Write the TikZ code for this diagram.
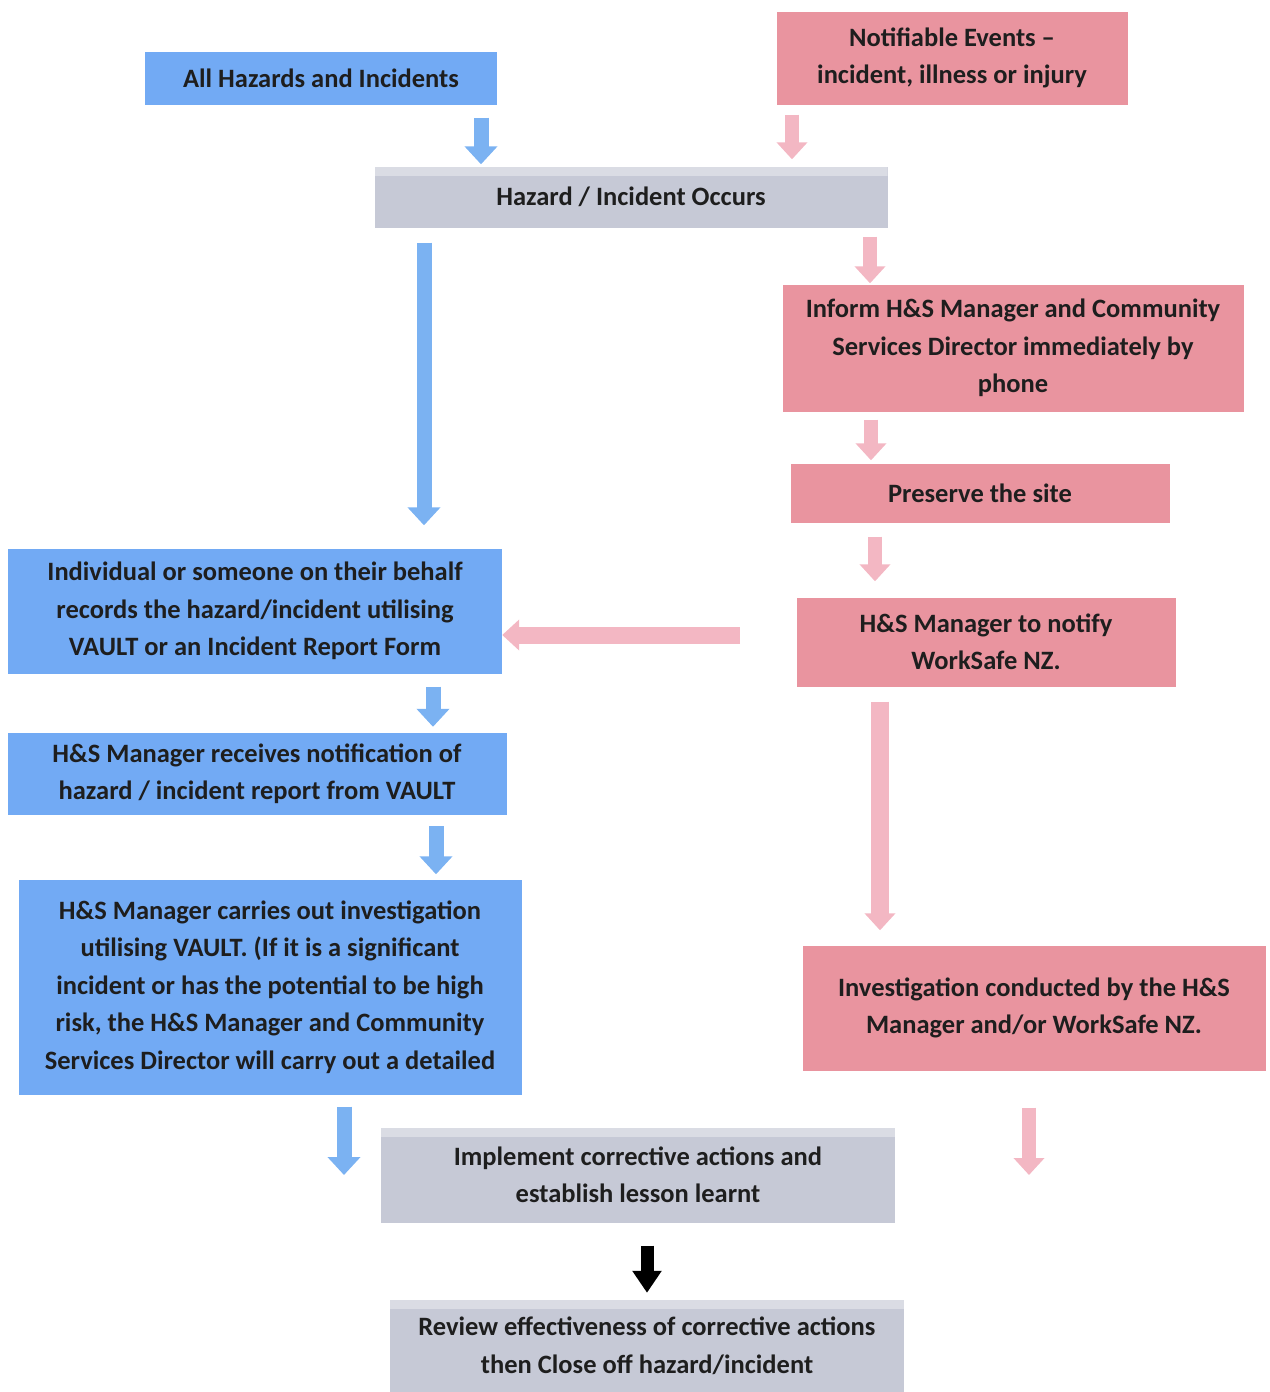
\documentclass[tikz,border=0pt]{standalone}
\usepackage{fontspec}
\setmainfont{Carlito}
\usetikzlibrary{arrows.meta, positioning, calc}
\definecolor{boxblue}{HTML}{72AAF4}
\definecolor{boxpink}{HTML}{E9949F}
\definecolor{boxgrey}{HTML}{C6C9D6}
\definecolor{bandgrey}{HTML}{DADCE4}
\definecolor{arrblue}{HTML}{7BB2F2}
\definecolor{arrpink}{HTML}{F3B7C3}
\definecolor{inkdark}{HTML}{1E1E1E}

\begin{document}
\begin{tikzpicture}[x=1pt, y=-1pt,
  box/.style={rectangle, inner sep=0pt, align=center, text=inkdark,
    font=\fontsize{26.5}{37.5}\selectfont\bfseries},
  bluebox/.style={box, fill=boxblue},
  pinkbox/.style={box, fill=boxpink},
  greybox/.style={box, fill=boxgrey, path picture={
    \fill[bandgrey] (path picture bounding box.north west) rectangle
      ([yshift=-9pt]path picture bounding box.north east);}},
  barrow/.style={-{Triangle[width=32pt, length=18pt]}, line width=15pt, color=arrblue},
  parrow/.style={-{Triangle[width=30pt, length=17pt]}, line width=14pt, color=arrpink},
  karrow/.style={-{Triangle[width=28pt, length=22pt]}, line width=13pt, color=black}
]
\useasboundingbox (0,0) rectangle (1269,1392);

% left (blue) column
\node[bluebox, minimum width=352pt, minimum height=53pt] (allhaz) at (321,78) {All Hazards and Incidents};
\node[bluebox, minimum width=494pt, minimum height=125pt] (record) at (255,611)
  {Individual or someone on their behalf\\records the hazard/incident utilising\\VAULT or an Incident Report Form};
\node[bluebox, minimum width=499pt, minimum height=82pt] (receive) at (257,774)
  {H\&S Manager receives notification of\\hazard / incident report from VAULT};
\node[bluebox, minimum width=503pt, minimum height=215pt] (carry) at (270,987)
  {H\&S Manager carries out investigation\\utilising VAULT. (If it is a significant\\incident or has the potential to be high\\risk, the H\&S Manager and Community\\Services Director will carry out a detailed};

% right (pink) column
\node[pinkbox, minimum width=351pt, minimum height=93pt] (notif) at (952,58)
  {Notifiable Events --\\incident, illness or injury};
\node[pinkbox, minimum width=461pt, minimum height=127pt] (inform) at (1013,348)
  {Inform H\&S Manager and Community\\Services Director immediately by\\phone};
\node[pinkbox, minimum width=379pt, minimum height=59pt] (preserve) at (980,493) {Preserve the site};
\node[pinkbox, minimum width=379pt, minimum height=89pt] (notify) at (986,642)
  {H\&S Manager to notify\\WorkSafe NZ.};
\node[pinkbox, minimum width=463pt, minimum height=125pt] (invest) at (1034,1008)
  {Investigation conducted by the H\&S\\Manager and/or WorkSafe NZ.};

% shared (grey) steps
\node[greybox, minimum width=513pt, minimum height=61pt] (occurs) at (631,197) {Hazard / Incident Occurs};
\node[greybox, minimum width=514pt, minimum height=95pt] (implement) at (638,1175)
  {Implement corrective actions and\\establish lesson learnt};
\node[greybox, minimum width=514pt, minimum height=92pt] (review) at (647,1346)
  {Review effectiveness of corrective actions\\then Close off hazard/incident};

% arrow lines
\coordinate (ab1) at (481,0);
\coordinate (ab2) at (424,0);
\coordinate (ab3) at (433,0);
\coordinate (ab4) at (436,0);
\coordinate (ab5) at (344,0);
\coordinate (ap1) at (792,0);
\coordinate (ap2) at (870,0);
\coordinate (ap3) at (871,0);
\coordinate (ap4) at (875,0);
\coordinate (ap5) at (880,0);
\coordinate (ap6) at (1029,0);
\coordinate (ak1) at (647,0);
\coordinate (apl) at (740,635);

\draw[barrow, shorten <=13pt, shorten >=2pt] (ab1 |- allhaz.south) -- (ab1 |- occurs.north);
\draw[barrow, shorten <=15pt, shorten >=23pt] (ab2 |- occurs.south) -- (ab2 |- record.north);
\draw[barrow, shorten <=13pt, shorten >=6pt] (ab3 |- record.south) -- (ab3 |- receive.north);
\draw[barrow, shorten <=11pt, shorten >=5pt] (ab4 |- receive.south) -- (ab4 |- carry.north);
\draw[barrow, shorten <=12pt] (ab5 |- carry.south) -- (ab5 |- implement);

\draw[parrow, shorten <=10pt, shorten >=7pt] (ap1 |- notif.south) -- (ap1 |- occurs.north);
\draw[parrow, shorten <=9pt, shorten >=1pt] (ap2 |- occurs.south) -- (ap2 |- inform.north);
\draw[parrow, shorten <=8pt, shorten >=3pt] (ap3 |- inform.south) -- (ap3 |- preserve.north);
\draw[parrow, shorten <=14pt, shorten >=16pt] (ap4 |- preserve.south) -- (ap4 |- notify.north);
\draw[parrow, line width=17pt] (apl) -- (record.east |- apl);
\draw[parrow, line width=18pt, shorten <=15pt, shorten >=15pt] (ap5 |- notify.south) -- (ap5 |- invest.north);
\draw[parrow, shorten <=37pt] (ap6 |- invest.south) -- (ap6 |- implement);

\draw[karrow, shorten <=23pt, shorten >=7pt] (ak1 |- implement.south) -- (ak1 |- review.north);
\end{tikzpicture}
\end{document}
